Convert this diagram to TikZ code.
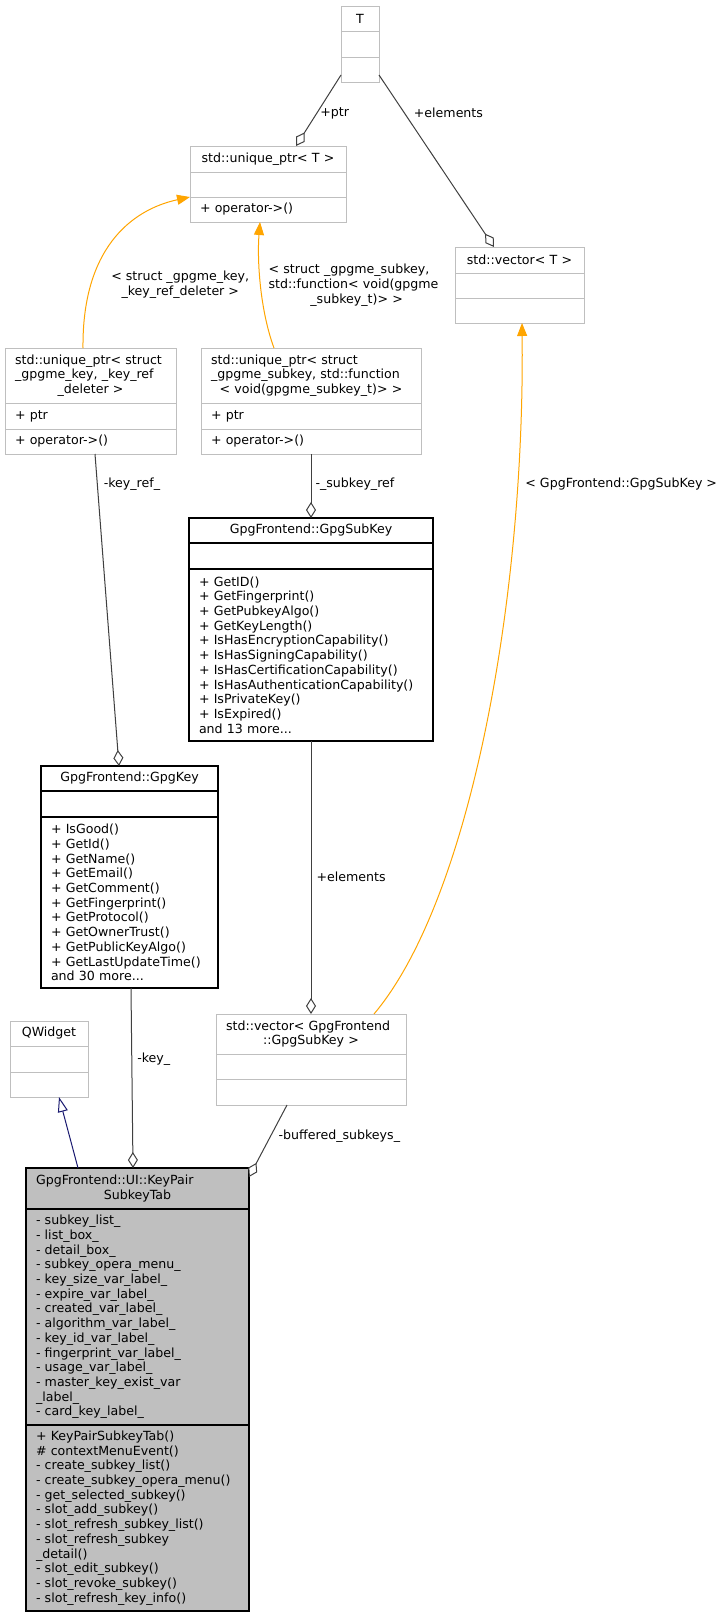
\documentclass[tikz,border=0pt]{standalone}
\usepackage{fontspec}
\setmainfont{DejaVu Sans}
\usetikzlibrary{arrows.meta, positioning, calc}
\definecolor{undoc}{RGB}{191,191,191}
\definecolor{edgegray}{RGB}{64,64,64}
\definecolor{tmplorange}{RGB}{255,165,0}
\definecolor{inhnavy}{RGB}{25,25,112}
\newcommand{\ctr}[1]{\hfill#1\hfill\null}
\hyphenpenalty=10000
\exhyphenpenalty=10000

\begin{document}
\begin{tikzpicture}[x=1pt, y=-1pt,
  row/.style={rectangle, draw=undoc, fill=white, line width=1pt,
              inner xsep=10pt, inner ysep=0pt, outer sep=0pt, align=left,
              font=\fontsize{12.6}{14.7}\selectfont},
  doc/.style={draw=black, line width=1.2pt},
  cur/.style={doc, fill=undoc},
  lbl/.style={font=\fontsize{12.6}{14.7}\selectfont, inner sep=0pt, anchor=west},
  agg/.style={draw=edgegray, line width=1pt,
              -{Diamond[fill=white, length=16pt, width=10pt]}},
  tpl/.style={draw=tmplorange, line width=1pt,
              -{Triangle[length=13pt, width=10pt]}},
  inh/.style={draw=inhnavy, line width=1pt,
              -{Triangle[fill=white, length=15pt, width=10pt]}}
]
\fill[white] (0,0) rectangle (725,1617);
\useasboundingbox (0,0) rectangle (725,1617);

% template parameter T
\node[row, text width=18pt, minimum height=25pt, anchor=north] (t) at (360,6) {\ctr{T}};
\node[row, text width=18pt, minimum height=26pt, below=0pt of t] (t-a) {};
\node[row, text width=18pt, minimum height=25pt, below=0pt of t-a] (t-m) {};

% std::unique_ptr< T >
\node[row, text width=136pt, minimum height=26pt, anchor=north] (uptrT) at (268,146)
    {\ctr{std::unique\_ptr<~T~>}};
\node[row, text width=136pt, minimum height=25pt, below=0pt of uptrT] (uptrT-a) {};
\node[row, text width=136pt, minimum height=25pt, below=0pt of uptrT-a] (uptrT-m) {+~operator->()};

% std::vector< T >
\node[row, text width=109pt, minimum height=26pt, anchor=north] (vecT) at (519.5,247)
    {\ctr{std::vector<~T~>}};
\node[row, text width=109pt, minimum height=25pt, below=0pt of vecT] (vecT-a) {};
\node[row, text width=109pt, minimum height=25pt, below=0pt of vecT-a] (vecT-m) {};

% key reference pointer
\node[row, text width=151pt, minimum height=55pt, anchor=north] (uptrKey) at (90.5,348)
    {std::unique\_ptr<~struct\\\_gpgme\_key,~\_key\_ref\\\ctr{\_deleter~>}};
\node[row, text width=151pt, minimum height=26pt, below=0pt of uptrKey] (uptrKey-a) {+~ptr};
\node[row, text width=151pt, minimum height=25pt, below=0pt of uptrKey-a] (uptrKey-m) {+~operator->()};

% subkey reference pointer
\node[row, text width=200pt, minimum height=55pt, anchor=north] (uptrSub) at (311,348)
    {std::unique\_ptr<~struct\\\_gpgme\_subkey,~std::function\\\ctr{<~void(gpgme\_subkey\_t)>~>}};
\node[row, text width=200pt, minimum height=26pt, below=0pt of uptrSub] (uptrSub-a) {+~ptr};
\node[row, text width=200pt, minimum height=25pt, below=0pt of uptrSub-a] (uptrSub-m) {+~operator->()};

% GpgSubKey
\node[row, doc, text width=224pt, minimum height=25pt, anchor=north] (sub) at (311,518)
    {\ctr{GpgFrontend::GpgSubKey}};
\node[row, doc, text width=224pt, minimum height=26pt, below=0pt of sub] (sub-a) {};
\node[row, doc, text width=224pt, minimum height=172pt, below=0pt of sub-a] (sub-m)
    {+~GetID()\\+~GetFingerprint()\\+~GetPubkeyAlgo()\\+~GetKeyLength()\\
     +~IsHasEncryptionCapability()\\+~IsHasSigningCapability()\\
     +~IsHasCertificationCapability()\\+~IsHasAuthenticationCapability()\\
     +~IsPrivateKey()\\+~IsExpired()\\and~13~more...};

% GpgKey
\node[row, doc, text width=157pt, minimum height=25pt, anchor=north] (key) at (129.5,766)
    {\ctr{GpgFrontend::GpgKey}};
\node[row, doc, text width=157pt, minimum height=26pt, below=0pt of key] (key-a) {};
\node[row, doc, text width=157pt, minimum height=171pt, below=0pt of key-a] (key-m)
    {+~IsGood()\\+~GetId()\\+~GetName()\\+~GetEmail()\\+~GetComment()\\
     +~GetFingerprint()\\+~GetProtocol()\\+~GetOwnerTrust()\\
     +~GetPublicKeyAlgo()\\+~GetLastUpdateTime()\\and~30~more...};

% QWidget
\node[row, text width=58pt, minimum height=25pt, anchor=north] (qw) at (49,1021) {\ctr{QWidget}};
\node[row, text width=58pt, minimum height=26pt, below=0pt of qw] (qw-a) {};
\node[row, text width=58pt, minimum height=25pt, below=0pt of qw-a] (qw-m) {};

% std::vector< GpgSubKey >
\node[row, text width=170pt, minimum height=40pt, anchor=north] (vecSub) at (311,1014)
    {std::vector<~GpgFrontend\\\ctr{::GpgSubKey~>}};
\node[row, text width=170pt, minimum height=25pt, below=0pt of vecSub] (vecSub-a) {};
\node[row, text width=170pt, minimum height=26pt, below=0pt of vecSub-a] (vecSub-m) {};

% KeyPairSubkeyTab
\node[row, cur, text width=203pt, minimum height=41pt, anchor=north] (tab) at (137.5,1168)
    {GpgFrontend::UI::KeyPair\\\ctr{SubkeyTab}};
\node[row, cur, text width=203pt, minimum height=216pt, below=0pt of tab] (tab-a)
    {-~subkey\_list\_\\-~list\_box\_\\-~detail\_box\_\\-~subkey\_opera\_menu\_\\
     -~key\_size\_var\_label\_\\-~expire\_var\_label\_\\-~created\_var\_label\_\\
     -~algorithm\_var\_label\_\\-~key\_id\_var\_label\_\\-~fingerprint\_var\_label\_\\
     -~usage\_var\_label\_\\-~master\_key\_exist\_var\\\_label\_\\-~card\_key\_label\_};
\node[row, cur, text width=203pt, minimum height=186pt, below=0pt of tab-a] (tab-m)
    {+~KeyPairSubkeyTab()\\\#~contextMenuEvent()\\-~create\_subkey\_list()\\
     -~create\_subkey\_opera\_menu()\\-~get\_selected\_subkey()\\-~slot\_add\_subkey()\\
     -~slot\_refresh\_subkey\_list()\\-~slot\_refresh\_subkey\\\_detail()\\
     -~slot\_edit\_subkey()\\-~slot\_revoke\_subkey()\\-~slot\_refresh\_key\_info()};

% members typed by T
\draw[agg] ($(t-m.south west)+(0,-7)$) --
    node[lbl, pos=0.535, xshift=3pt] {+ptr} ($(uptrT.north)+(28,0)$);
\draw[agg] ($(t-m.south east)+(0,-7)$) --
    node[lbl, pos=0.221, xshift=9pt] {+elements} ($(vecT.north)+(-25.5,0)$);

% template instances
\draw[tpl] ($(uptrKey.north)+(-7.5,0)$) .. controls +(-1,-98) and +(-60,13) .. (uptrT-a.south west)
    node[lbl, pos=0.25, xshift=20pt, align=center] {<~struct~\_gpgme\_key,\\\_key\_ref\_deleter~>};
\draw[tpl] ($(uptrSub.north)+(-37,0)$) .. controls +(-14,-38) and +(-3,38) .. ($(uptrT-m.south)+(-8,0)$)
    node[lbl, pos=0.5, xshift=7.5pt, text width=176pt, align=left]
    {<~struct~\_gpgme\_subkey,\\std::function<~void(gpgme\\\ctr{\_subkey\_t)>~>}};
\draw[tpl] ($(vecSub.north)+(63,0)$) .. controls +(96,-114) and +(3,277) .. ($(vecT-m.south)+(2.5,0)$)
    node[lbl, pos=0.808, xshift=7.5pt] {<~GpgFrontend::GpgSubKey~>};

% aggregations
\draw[agg] ($(uptrKey-m.south)+(4.5,0)$) --
    node[lbl, pos=0.096, xshift=6pt] {-key\_ref\_} ($(key.north)+(-10.5,0)$);
\draw[agg] (uptrSub-m.south) --
    node[lbl, pos=0.47, xshift=4pt] {-\_subkey\_ref} (sub.north);
\draw[agg] (sub-m.south) --
    node[lbl, pos=0.498, xshift=5pt] {+elements} (vecSub.north);
\draw[agg] ($(key-m.south)+(1.5,0)$) --
    node[lbl, pos=0.394, xshift=5pt] {-key\_} ($(tab.north)+(-4.5,0)$);
\draw[agg] ($(vecSub-m.south)+(-24,0)$) --
    node[lbl, pos=0.43, xshift=7.5pt] {-buffered\_subkeys\_} ($(tab.north east)+(0,9)$);

% inheritance
\draw[inh] ($(tab.north)+(-59.5,0)$) -- ($(qw-m.south)+(10,0)$);
\end{tikzpicture}
\end{document}
